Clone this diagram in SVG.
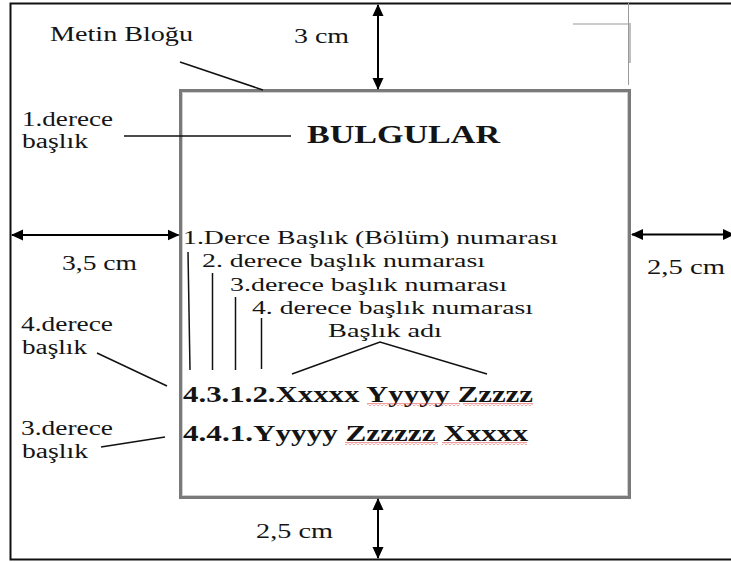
<svg xmlns="http://www.w3.org/2000/svg" width="731" height="562" viewBox="0 0 731 562">
<style>
text{font-family:"Liberation Serif","DejaVu Serif","Times New Roman",Times,serif;fill:#141414;}
.lb{font-size:20px;}
.hd{font-size:19.5px;}
.bd{font-size:23px;font-weight:bold;}
.ln{stroke:#111;stroke-width:1.5;fill:none;}
.ar{stroke:#000;stroke-width:2;fill:none;marker-start:url(#ah);marker-end:url(#ah);}
.frame{stroke:#111;stroke-width:2;fill:none;}
</style>
<defs>
<marker id="ah" viewBox="0 0 12 12" refX="11" refY="6" markerWidth="12" markerHeight="12" markerUnits="userSpaceOnUse" orient="auto-start-reverse">
<path d="M0,0.5 L12,6 L0,11.5 Z" fill="#000"/>
</marker>
<pattern id="wave" x="0" y="0" width="4" height="3" patternUnits="userSpaceOnUse">
<path d="M0,2.5 L2,0.5 L4,2.5" stroke="#e02020" stroke-width="0.9" fill="none"/>
</pattern>
</defs>

<g id="page">
<path class="frame" d="M731,3.5 H10.5 V559.5 H731"/>
<path d="M628.5,3 V85" stroke="#999" stroke-width="1"/>
<path d="M630,23 V63" stroke="#aaa" stroke-width="1.5"/>
<path d="M573,24 H628.5" stroke="#999" stroke-width="1"/>
</g>

<g id="text-block">
<rect x="180.5" y="90.5" width="449" height="407" fill="#fff" stroke="#7a7a7a" stroke-width="3"/>
<rect x="182.5" y="92.5" width="445" height="403" fill="none" stroke="#cfcfcf" stroke-width="1"/>
</g>

<g id="label-metin">
<text class="lb" font-family="Liberation Serif, serif" x="50" y="41" textLength="143" lengthAdjust="spacingAndGlyphs">Metin Bloğu</text>
</g>
<g id="label-top">
<text class="lb" x="294" y="43" textLength="55" lengthAdjust="spacingAndGlyphs">3 cm</text>
</g>
<g id="label-1derece">
<text class="lb" x="22" y="126" textLength="91" lengthAdjust="spacingAndGlyphs">1.derece</text>
<text class="lb" x="22" y="148" textLength="66" lengthAdjust="spacingAndGlyphs">başlık</text>
</g>
<g id="title">
<text x="307" y="143" style="font-size:25px;font-weight:bold" textLength="193" lengthAdjust="spacingAndGlyphs">BULGULAR</text>
</g>
<g id="label-left">
<text class="lb" x="62" y="270" textLength="75" lengthAdjust="spacingAndGlyphs">3,5 cm</text>
</g>
<g id="label-right">
<text class="lb" x="647" y="274" textLength="78" lengthAdjust="spacingAndGlyphs">2,5 cm</text>
</g>
<g id="numbering">
<text class="hd" x="183" y="244" textLength="375" lengthAdjust="spacingAndGlyphs">1.Derce Başlık (Bölüm) numarası</text>
<text class="hd" x="202" y="267" textLength="283" lengthAdjust="spacingAndGlyphs">2. derece başlık numarası</text>
<text class="hd" x="230" y="291" textLength="277" lengthAdjust="spacingAndGlyphs">3.derece başlık numarası</text>
<text class="hd" x="252" y="314" textLength="281" lengthAdjust="spacingAndGlyphs">4. derece başlık numarası</text>
<text class="hd" x="328" y="337" textLength="114" lengthAdjust="spacingAndGlyphs">Başlık adı</text>
</g>
<g id="label-4derece">
<text class="lb" x="21" y="331" textLength="92" lengthAdjust="spacingAndGlyphs">4.derece</text>
<text class="lb" x="22" y="354" textLength="65" lengthAdjust="spacingAndGlyphs">başlık</text>
</g>
<g id="heading-4312">
<text class="bd" x="183" y="402" textLength="350" lengthAdjust="spacingAndGlyphs">4.3.1.2.Xxxxx Yyyyy Zzzzz</text>
<rect x="367" y="403" width="93" height="3" fill="url(#wave)"/>
<rect x="463" y="403" width="70" height="3" fill="url(#wave)"/>
</g>
<g id="label-3derece">
<text class="lb" x="21" y="435" textLength="92" lengthAdjust="spacingAndGlyphs">3.derece</text>
<text class="lb" x="22" y="458" textLength="66" lengthAdjust="spacingAndGlyphs">başlık</text>
</g>
<g id="heading-441">
<text class="bd" x="183" y="441" textLength="345" lengthAdjust="spacingAndGlyphs">4.4.1.Yyyyy Zzzzzz Xxxxx</text>
<rect x="345" y="442" width="93" height="3" fill="url(#wave)"/>
<rect x="442" y="442" width="85" height="3" fill="url(#wave)"/>
</g>
<g id="label-bottom">
<text class="lb" x="256" y="538" textLength="77" lengthAdjust="spacingAndGlyphs">2,5 cm</text>
</g>

<g id="connectors">
<path class="ln" d="M180,62 L263,90"/>
<path class="ln" d="M124,136 H291"/>
<path class="ln" d="M188,252 L190,370"/>
<path class="ln" d="M212.5,273 V370"/>
<path class="ln" d="M235.5,297 V370"/>
<path class="ln" d="M261.5,318 V369"/>
<path class="ln" d="M292,374 L380,342 L487,374"/>
<path class="ln" d="M97,353 L167,386"/>
<path class="ln" d="M101,447 L165,437"/>
<path class="ar" d="M378,5 V89"/>
<path class="ar" d="M12,235 H178.5"/>
<path class="ar" d="M632,234.5 H734"/>
<path class="ar" d="M378,499 V558"/>
</g>
</svg>
